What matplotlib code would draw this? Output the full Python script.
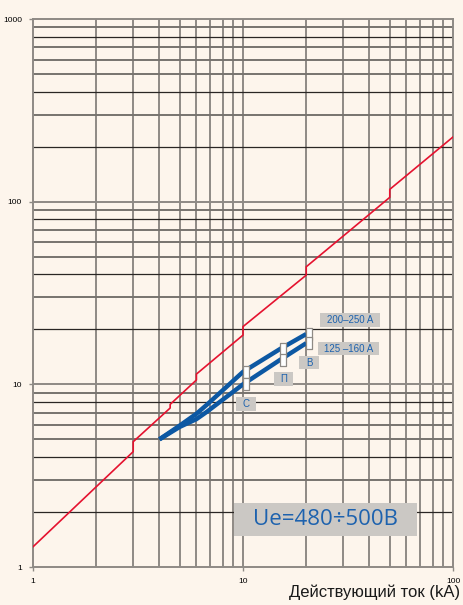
import matplotlib.pyplot as plt
import numpy as np
from matplotlib.path import Path
from matplotlib.patches import Rectangle

# red boundary line (kA, kA)
red_x = [1, 3, 3, 4.5, 4.5, 6, 6, 10, 10, 20, 20, 50, 50, 100]
red_y = [1.29, 4.28, 4.85, 7.42, 7.77, 10.56, 11.38, 18.6, 20.7, 39.6, 44.0, 105.6, 116.8, 226]

# blue let-through curves
upper_x = [4, 5, 6, 6.7, 10, 15, 20]
upper_y = [5, 5.95, 6.9, 7.7, 11.7, 15.6, 18.85]
lower_x = [4, 5, 6, 6.7, 10, 15, 20]
lower_y = [5, 5.85, 6.45, 7.05, 10.0, 13.6, 16.8]
mark_x = [10, 15, 20]

bg = '#fdf5ec'
blue = '#0d58a3'
text_blue = '#1d62ae'
red = '#e5122f'
grid_gray = '#8e8a85'
box_gray = '#cbc8c4'

fig = plt.figure(figsize=(4.64, 6.05), dpi=100, facecolor=bg)
ax = fig.add_axes([33/464, 1 - 567/605, 420/464, 548/605], facecolor=bg)
ax.set_xscale('log')
ax.set_yscale('log')
ax.set_xlim(1, 100)
ax.set_ylim(1, 1000)

# grid: vertical gray, horizontal mix of gray / dark
for dec in [1, 10]:
    for m in range(2, 10):
        ax.axvline(m * dec, color=grid_gray, lw=1.4, zorder=1)
ax.axvline(10, color=grid_gray, lw=1.4, zorder=1)
for dec in [1, 10, 100]:
    for m in range(2, 10):
        if m in (2, 4, 8):
            ax.axhline(m * dec, color='#2a2624', lw=0.9, zorder=1)
        else:
            ax.axhline(m * dec, color='#77736e', lw=1.4, zorder=1)
for v in [10, 100]:
    ax.axhline(v, color=grid_gray, lw=1.4, zorder=1)

for s in ax.spines.values():
    s.set_color(grid_gray)
    s.set_linewidth(1.4)

ax.set_xticks([1, 10, 100])
ax.set_xticklabels(['1', '10', '100'])
ax.set_yticks([1, 10, 100, 1000])
ax.set_yticklabels(['1', '10', '100', '1000'])
ax.minorticks_off()
ax.tick_params(length=3, width=1, color=grid_gray, labelsize=6, pad=5)
for lab in ax.get_xticklabels() + ax.get_yticklabels():
    lab.set_family('Liberation Sans')

ax.plot(red_x, red_y, color=red, lw=1.2, zorder=3)
ax.plot(upper_x, upper_y, color=blue, lw=3.2, zorder=4, solid_capstyle='butt')
ax.plot(lower_x, lower_y, color=blue, lw=3.2, zorder=4, solid_capstyle='butt')

rect = Path([(-0.5, -1), (0.5, -1), (0.5, 1), (-0.5, 1), (-0.5, -1)],
            [Path.MOVETO, Path.LINETO, Path.LINETO, Path.LINETO, Path.CLOSEPOLY])
for xs, ys in [(upper_x, upper_y), (lower_x, lower_y)]:
    my = [ys[xs.index(v)] for v in mark_x]
    ax.plot(np.array(mark_x) * 1.035, my, ls='none', marker=rect, ms=9,
            mfc='white', mec='#8e8a85', mew=0.9, zorder=5)

# small grey label boxes, given in pixel bounds (x0, x1, y0, y1)
def label(px0, px1, py0, py1, txt, size=7):
    x0 = (px0 - 33) / 420
    x1 = (px1 - 33) / 420
    y0 = (567 - py1) / 548
    y1 = (567 - py0) / 548
    ax.add_patch(Rectangle((x0, y0), x1 - x0, y1 - y0, transform=ax.transAxes,
                           fc=box_gray, ec='none', zorder=6))
    return ax.text((x0 + x1) / 2, (y0 + y1) / 2, txt, transform=ax.transAxes,
                   color=text_blue, fontsize=size, ha='center', va='center',
                   family='Liberation Sans', zorder=7)

label(320, 380, 313, 327, '200\u2013250 A')
label(318, 379, 342, 355, '125 \u2013160 A')
label(299, 319, 356, 369, '\u0412')
label(274, 293, 372, 386, '\u041f')
label(236, 256, 397, 411, '\u0421')
ue = label(234, 417, 503, 536, 'Ue=480\u00f7500B', size=16)
ue.set_family('Open Sans')

fig.text(460/464, 8/605, 'Действующий ток (kA)', ha='right', va='baseline',
         fontsize=12, color='#1a1a1a',
         family=['Liberation Sans Narrow', 'Liberation Sans', 'DejaVu Sans'])

fig.savefig('out.png', dpi=100, facecolor=bg)
